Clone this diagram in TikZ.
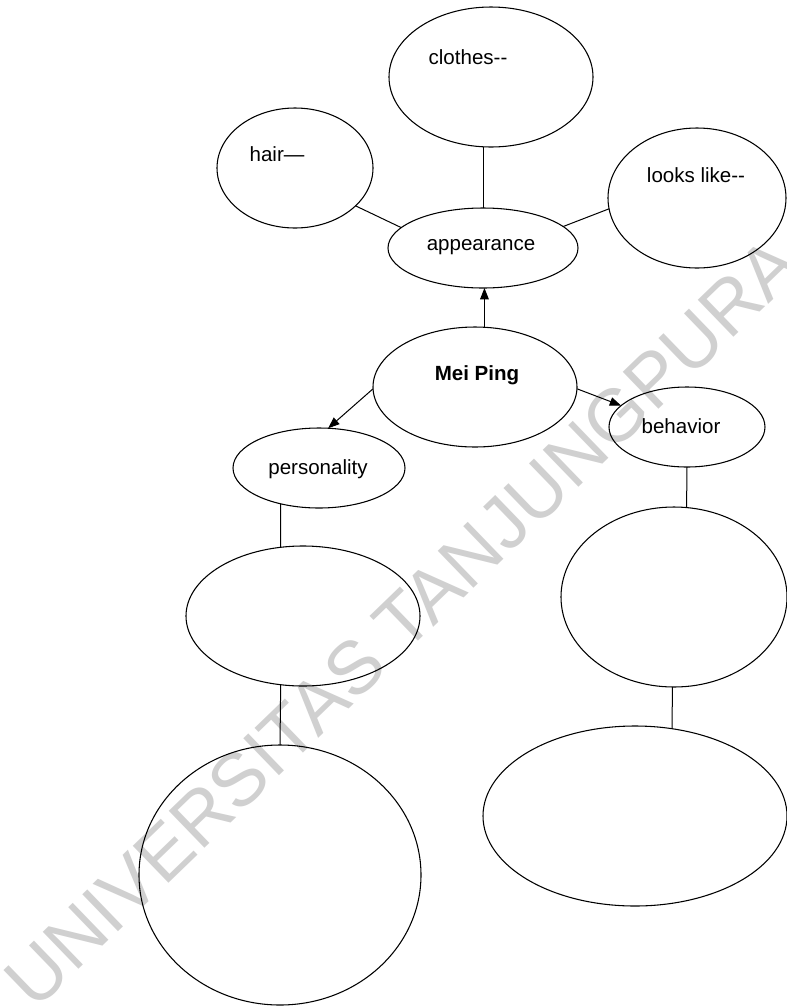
\documentclass[tikz,border=0pt]{standalone}
\usepackage{fontspec}
\setmainfont{Liberation Sans}
\usetikzlibrary{shapes.geometric,arrows.meta}
\definecolor{wmgray}{RGB}{208,208,208}
\begin{document}
\begin{tikzpicture}[x=0.75pt,y=-0.75pt,
  bubble/.style 2 args={ellipse,draw,line width=0.8pt,minimum width=#1*0.75pt,minimum height=#2*0.75pt,inner sep=0pt,outer sep=0pt},
  lbl/.style={inner sep=0pt,font=\fontsize{15.4}{18}\selectfont},
  link/.style={line width=0.75pt},
  arr/.style={line width=0.75pt,-{Triangle[length=8.5pt,width=6.5pt]}},
]
\useasboundingbox[fill=white] (0,0) rectangle (787,1008);
% watermark
\node[rotate=44,text=wmgray,inner sep=0pt,font=\fontsize{56}{60}\selectfont] (wm) at (402,622) {UNIVERSITAS TANJUNGPURA};
% bubbles
\node[bubble={204}{140}] (clothes) at (491,77) {};
\node[bubble={156}{120}] (hair) at (295,168) {};
\node[bubble={178}{140}] (looks) at (697,198) {};
\node[bubble={190}{80}] (appearance) at (483,248) {};
\node[bubble={204}{120}] (mei) at (475,387) {};
\node[bubble={172}{80}] (personality) at (319,468) {};
\node[bubble={156}{80}] (behavior) at (687,427) {};
\node[bubble={234}{140}] (p2) at (303,616) {};
\node[bubble={282}{260}] (p3) at (280,875) {};
\node[bubble={226}{180}] (b2) at (674,597) {};
\node[bubble={304}{180}] (b3) at (635,816) {};
% labels
\node[lbl] (tclothes) at (468,57) {clothes-{}-};
\node[lbl] (thair) at (277,154) {hair—};
\node[lbl] (tlooks) at (696,175) {looks like-{}-};
\node[lbl] (tapp) at (481,247) {appearance};
\node[lbl,font=\bfseries\fontsize{15.4}{18}\selectfont] (tmei) at (477,375) {Mei Ping};
\node[lbl] (tpers) at (318,469) {personality};
\node[lbl] (tbeh) at (681,426) {behavior};
% connectors
\draw[link] (hair.-32.4) -- (appearance.166);
\draw[link] (appearance.north) -- (appearance.north |- clothes.south);
\draw[link] (appearance.15) -- (looks.-173.6);
\draw[arr] (mei.81) -- (mei.81 |- appearance.south);
\draw[arr] (mei.-179) -- (personality.77);
\draw[arr] (mei.-1) -- (behavior.162.6);
\draw[link] (personality.-137.6) -- (p2.108.5);
\draw[link] (p2.-108.5) -- (p3.north);
\draw[link] (behavior.south) -- (b2.82.4);
\draw[link] (b2.-91.9) -- (b3.67.6);
\end{tikzpicture}
\end{document}
